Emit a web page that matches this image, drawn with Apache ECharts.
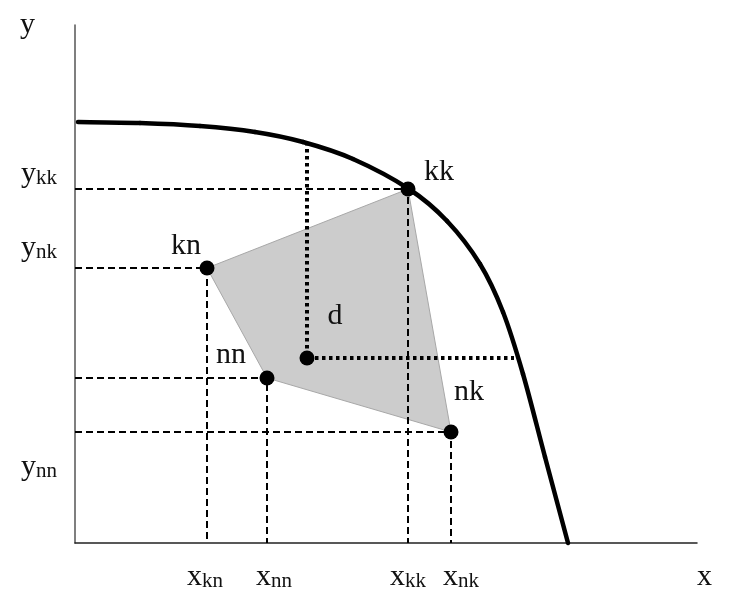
<!DOCTYPE html>
<html>
<head>
<meta charset="utf-8">
<script src="https://cdn.jsdelivr.net/npm/echarts@6/dist/echarts.min.js"></script>
<style>html,body{margin:0;padding:0;background:#fff;}#c{width:733px;height:599px;}</style>
</head>
<body>
<div id="c"></div>
<script>
// ---- data (abstract units; x: 0..622, y: 0..518) ----
const curvePoints = [[3,421],[65,420],[125,417],[180,411],[228,401],[278,384],[334,354],[372,322],[405,279],[428,231],[448,169],[470,86],[493,0]];
const pointNames = ['kn','nn','kk','nk','d'];
const pointX = [132,192,333,376,232];
const pointY = [275,165,354,111,185];
const polygonOrder = ['kn','kk','nk','nn'];
const dottedUpTo = 401;     // y where dotted vertical from d meets the curve
const dottedRightTo = 439;  // x where dotted horizontal from d meets the curve
const xTickValues = [130,199,333,386];
const xTickLabels = ['kn','nn','kk','nk'];
const yTickValues = [369,295,76];
const yTickLabels = ['kk','nk','nn'];

const FONT = 'Liberation Serif';
const pt = {};
pointNames.forEach((n,i)=>{ pt[n] = [pointX[i], pointY[i]]; });

const labelOffsets = { kk:[31,-17], kn:[-21,-22], nn:[-36,-23], d:[28,-42], nk:[18,-40] };

const richStyle = {
  m: { fontFamily: FONT, fontSize: 30, lineHeight: 30, color: '#111', verticalAlign: 'bottom' },
  s: { fontFamily: FONT, fontSize: 21, lineHeight: 24, color: '#111', verticalAlign: 'bottom' }
};

const dashedSeries = ['kk','kn','nn','nk'].map(n => ({
  type: 'line', silent: true, symbol: 'none', z: 2,
  data: [[0, pt[n][1]], [pt[n][0], pt[n][1]], [pt[n][0], 0]],
  lineStyle: { color: '#000', width: 2, type: [7,4] }
}));

// smooth curve through the data points (Catmull-Rom -> cubic Bezier, in pixel space)
function renderCurve(params, api) {
  const p = curvePoints.map(v => api.coord(v));
  const children = [];
  for (let i = 0; i < p.length - 1; i++) {
    const p0 = p[Math.max(i - 1, 0)], p1 = p[i], p2 = p[i + 1], p3 = p[Math.min(i + 2, p.length - 1)];
    children.push({
      type: 'bezierCurve',
      shape: {
        x1: p1[0], y1: p1[1], x2: p2[0], y2: p2[1],
        cpx1: p1[0] + (p2[0] - p0[0]) / 6, cpy1: p1[1] + (p2[1] - p0[1]) / 6,
        cpx2: p2[0] - (p3[0] - p1[0]) / 6, cpy2: p2[1] - (p3[1] - p1[1]) / 6
      },
      style: { stroke: '#000', lineWidth: 4.5, fill: null, lineCap: 'round' }
    });
  }
  return { type: 'group', children };
}

const option = {
  animation: false,
  backgroundColor: '#fff',
  grid: { left: 75, right: 36, top: 25, bottom: 56 },
  xAxis: {
    type: 'value', min: 0, max: 622,
    name: 'x', nameLocation: 'end', nameGap: 0,
    nameTextStyle: { fontFamily: FONT, fontSize: 30, lineHeight: 30, color: '#111', align: 'left', verticalAlign: 'top', padding: [19,0,0,0] },
    axisLine: { show: true, onZero: false, lineStyle: { color: '#222', width: 1.5 } },
    axisTick: { show: false },
    splitLine: { show: false },
    axisLabel: {
      customValues: xTickValues, margin: 19,
      formatter: v => '{m|x}{s|' + xTickLabels[xTickValues.indexOf(v)] + '}',
      rich: richStyle
    }
  },
  yAxis: {
    type: 'value', min: 0, max: 518,
    name: 'y', nameLocation: 'end', nameGap: 0,
    nameTextStyle: { fontFamily: FONT, fontSize: 30, lineHeight: 30, color: '#111', align: 'right', verticalAlign: 'middle', padding: [6,40,0,0] },
    axisLine: { show: true, onZero: false, lineStyle: { color: '#555', width: 1.5 } },
    axisTick: { show: false },
    splitLine: { show: false },
    axisLabel: {
      customValues: yTickValues, margin: 18,
      formatter: v => '{m|y}{s|' + yTickLabels[yTickValues.indexOf(v)] + '}',
      rich: richStyle
    }
  },
  series: [
    {
      type: 'custom', silent: true, z: 1,
      data: [0],
      renderItem: (params, api) => ({
        type: 'polygon',
        shape: { points: polygonOrder.map(n => api.coord(pt[n])) },
        style: { fill: '#cccccc', stroke: '#a8a8a8', lineWidth: 1 }
      })
    },
    ...dashedSeries,
    {
      type: 'line', silent: true, symbol: 'none', z: 3,
      data: [[pt.d[0], dottedUpTo], pt.d, [dottedRightTo, pt.d[1]]],
      lineStyle: { color: '#000', width: 4, type: [3.5,3.5], cap: 'butt' }
    },
    {
      type: 'custom', silent: true, z: 4,
      data: [0],
      renderItem: renderCurve
    },
    {
      type: 'scatter', silent: true, z: 5, symbol: 'circle', symbolSize: 15,
      itemStyle: { color: '#000', opacity: 1 },
      data: pointNames.map((n,i) => ({
        name: n, value: [pointX[i], pointY[i]],
        label: { offset: labelOffsets[n] }
      })),
      label: {
        show: true, position: 'inside', formatter: p => p.name,
        fontFamily: FONT, fontSize: 30, color: '#111', opacity: 1
      }
    }
  ]
};
echarts.init(document.getElementById('c')).setOption(option);
</script>
</body>
</html>
